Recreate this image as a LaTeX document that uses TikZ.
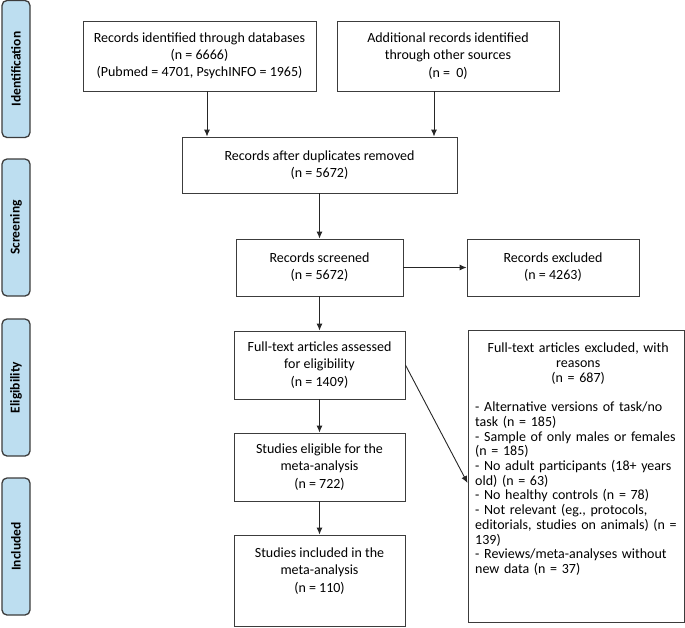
\documentclass[tikz,border=0pt]{standalone}
\usepackage{fontspec}
\setmainfont{Carlito}
\usepackage{tikz}
\usetikzlibrary{arrows.meta}
\definecolor{phaseblue}{RGB}{189,222,240}
\definecolor{edgegray}{RGB}{60,60,60}
\tikzset{box/.style={draw=edgegray,line width=0.9pt,inner sep=0pt,align=center,
    font=\fontsize{14}{17.2}\selectfont},
  phase/.style={draw=edgegray,line width=1.3pt,fill=phaseblue,rounded corners=5pt,
    rotate=90,minimum width=137pt,minimum height=28pt,inner sep=0pt,
    font=\fontsize{13.5}{16}\selectfont\bfseries},
  arr/.style={-{Latex[length=7pt,width=6pt]},line width=0.9pt,draw=black!85}
}
\begin{document}
\begin{tikzpicture}[x=1pt,y=-1pt]
                \useasboundingbox (0,0) rectangle (685,627);

                % Phase labels
                \node[phase] (idf) at (16,69) {Identification};
                \node[phase] (scn) at (16,227.5) {Screening};
                \node[phase] (elg) at (16,387.5) {Eligibility};
                \node[phase] (inc) at (16,546.5) {Included};

                % Boxes
                \node[box,minimum width=233pt,minimum height=70pt] (db) at (199.5,56)
                    {Records identified through databases\\(n = 6666)\\(Pubmed = 4701, PsychINFO = 1965)};
                \node[box,minimum width=222pt,minimum height=70pt] (other) at (448,56)
                    {Additional records identified\\through other sources\\(n =\ \ 0)};
                \node[box,minimum width=275pt,minimum height=56pt] (dup) at (319.5,165)
                    {Records after duplicates removed\\(n = 5672)};
                \node[box,minimum width=167pt,minimum height=57pt] (scr) at (319.5,267.5)
                    {Records screened\\(n = 5672)};
                \node[box,minimum width=172pt,minimum height=57pt] (excl) at (553,267.5)
                    {Records excluded\\(n = 4263)};
                \node[box,minimum width=171pt,minimum height=68pt] (full) at (319.5,365)
                    {Full-text articles assessed\\for eligibility\\(n = 1409)};
                \node[box,minimum width=171pt,minimum height=68pt] (elig) at (319.5,467)
                    {Studies eligible for the\\meta-analysis\\(n = 722)};
                \node[box,minimum width=171pt,minimum height=91pt] (incl) at (319.5,580.5) {};
                \node[align=center,inner sep=0pt,font=\fontsize{14}{17.2}\selectfont] (incltext) at (319.5,571)
                    {Studies included in the\\meta-analysis\\(n = 110)};

                % Reasons box
                \node[box,minimum width=216pt,minimum height=292pt] (why) at (576,476) {};
                \node[anchor=north west,inner sep=0pt,text width=206pt,
                    font=\fontsize{14}{14.7}\selectfont] (whytext) at (475,343) {%
                    {\centering Full-text articles excluded, with\\reasons\\(n = 687)\par}
                    \vspace{14.7pt}
                    \raggedright
                    - Alternative versions of task/no\\
                    task (n = 185)\\
                    - Sample of only males or females\\
                    (n = 185)\\
                    - No adult participants (18+ years\\
                    old) (n = 63)\\
                    - No healthy controls (n = 78)\\
                    - Not relevant (eg., protocols,\\
                    editorials, studies on animals) (n =\\
                    139)\\
                    - Reviews/meta-analyses without\\
                    new data (n = 37)};

                % Arrows
                \draw[arr] ([xshift=7.5pt]db.south) -- ([xshift=7.5pt]db.south |- dup.north);
                \draw[arr] ([xshift=-14pt]other.south) -- ([xshift=-14pt]other.south |- dup.north);
                \draw[arr] (dup) -- (scr);
                \draw[arr] (scr) -- (excl);
                \draw[arr] (scr) -- (full);
                \draw[arr] (full) -- (elig);
                \draw[arr] (elig) -- (incl);
                \draw[arr] (full.east) -- ([yshift=-7pt]why.west);
            \end{tikzpicture}
\end{document}
